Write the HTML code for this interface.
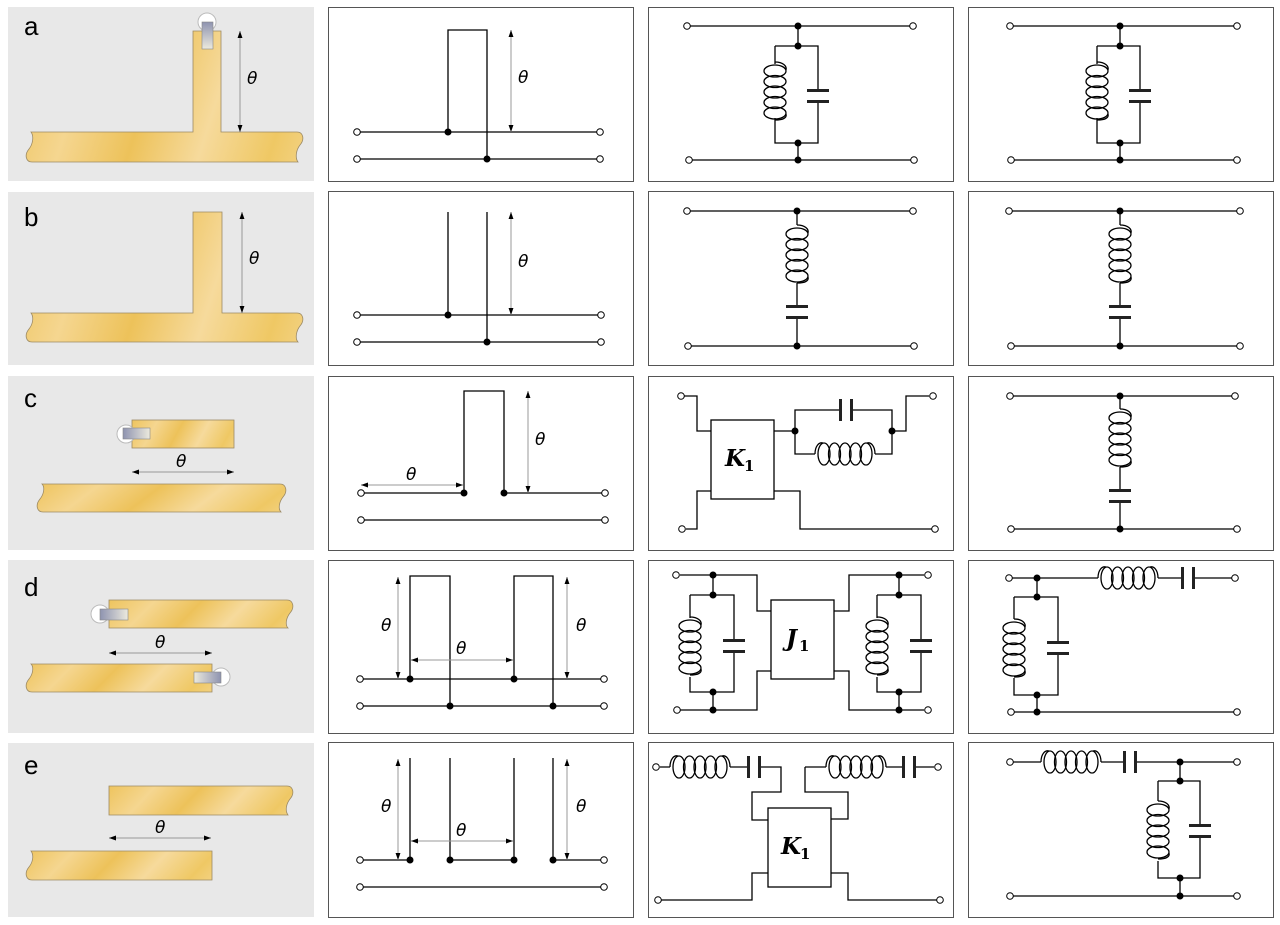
<!DOCTYPE html>
<html><head><meta charset="utf-8"><style>
html,body{margin:0;padding:0;background:#fff}
svg{display:block}
.w{fill:none;stroke:#000;stroke-width:1.3}
.a{fill:none;stroke:#999;stroke-width:1}
.box{fill:#fff;stroke:#555;stroke-width:1}
.g{fill:#e8e8e8}
.s{fill:url(#gold);stroke:#9c8a64;stroke-width:0.8}
.t{font-family:"DejaVu Sans","Liberation Sans",sans-serif;font-style:oblique;font-size:17px}
.l{font-family:"Liberation Sans",sans-serif;font-size:26px}
.k{font-family:"DejaVu Serif","Liberation Serif",serif;font-style:italic;font-weight:bold;font-size:23px}
.k2{font-family:"DejaVu Serif","Liberation Serif",serif;font-weight:bold;font-size:15px}
</style></head><body>
<svg width="1280" height="925" viewBox="0 0 1280 925" xmlns="http://www.w3.org/2000/svg">
<defs>
<linearGradient id="gold" x1="0" y1="0" x2="1" y2="0.15" spreadMethod="reflect">
<stop offset="0" stop-color="#eec45e"/><stop offset="0.25" stop-color="#f5d690"/>
<stop offset="0.5" stop-color="#edc25a"/><stop offset="0.75" stop-color="#f6da9c"/><stop offset="1" stop-color="#efc864"/></linearGradient>
<linearGradient id="conn" x1="0" y1="0" x2="0" y2="1"><stop offset="0" stop-color="#8e93b0"/><stop offset="1" stop-color="#eceade"/></linearGradient>
<linearGradient id="connh" x1="0" y1="0" x2="1" y2="0"><stop offset="0" stop-color="#8e93b0"/><stop offset="1" stop-color="#eceade"/></linearGradient>
<linearGradient id="connh2" x1="1" y1="0" x2="0" y2="0"><stop offset="0" stop-color="#8e93b0"/><stop offset="1" stop-color="#eceade"/></linearGradient>
<marker id="ah" viewBox="0 0 10 10" refX="10" refY="5" markerWidth="7" markerHeight="7" orient="auto-start-reverse" markerUnits="userSpaceOnUse"><path d="M0,1.5 L10,5 L0,8.5z" fill="#000"/></marker>
<g id="cv"><path class="w" d="M0,0 C8,0 12,4 11,8"/>
<ellipse class="w" cx="0" cy="9" rx="11" ry="6"/><ellipse class="w" cx="0" cy="19.5" rx="11" ry="6"/><ellipse class="w" cx="0" cy="30" rx="11" ry="6"/><ellipse class="w" cx="0" cy="40.5" rx="11" ry="6"/><ellipse class="w" cx="0" cy="51" rx="11" ry="6"/>
<path class="w" d="M11,52 C12,56 8,58 0,58"/></g>
<g id="ch"><path class="w" d="M0,0 C0,-8 4,-12 8,-11"/>
<ellipse class="w" cx="9" cy="0" rx="6" ry="11"/><ellipse class="w" cx="19.5" cy="0" rx="6" ry="11"/><ellipse class="w" cx="30" cy="0" rx="6" ry="11"/><ellipse class="w" cx="40.5" cy="0" rx="6" ry="11"/><ellipse class="w" cx="51" cy="0" rx="6" ry="11"/>
<path class="w" d="M52,-11 C56,-12 60,-8 60,0"/></g>
<g id="capv"><rect x="-11" y="-7" width="22" height="3" fill="#222"/><rect x="-11" y="4" width="22" height="3" fill="#222"/></g>
<g id="caph"><rect x="-7" y="-11" width="3" height="22" fill="#222"/><rect x="4" y="-11" width="3" height="22" fill="#222"/></g>
</defs>

<rect class="g" x="8" y="7" width="306" height="174"/>
<rect class="g" x="8" y="192" width="306" height="173"/>
<rect class="g" x="8" y="376" width="306" height="174"/>
<rect class="g" x="8" y="560" width="306" height="173"/>
<rect class="g" x="8" y="743" width="306" height="174"/>
<text class="l" x="24" y="35">a</text>
<text class="l" x="24" y="226">b</text>
<text class="l" x="24" y="407">c</text>
<text class="l" x="24" y="596">d</text>
<text class="l" x="24" y="774">e</text>

<path class="s" d="M33,132 H193 V31 H221 V132 H297 c6,0 8,7 3,13 c-4,5 -5,13 -2,17 H32 c-6,0 -8,-7 -3,-13 c4,-5 5,-13 2,-17z"/>
<circle cx="207" cy="22" r="9" fill="#fff" stroke="#bbb"/>
<rect x="202" y="22" width="11" height="27" fill="url(#conn)" stroke="#888" stroke-width="0.6"/>
<line class="a" x1="240" y1="31" x2="240" y2="132" marker-start="url(#ah)" marker-end="url(#ah)"/>
<text class="t" x="247" y="84">θ</text>
<path class="s" d="M33,313 H193 V212 H222 V313 H297 c6,0 8,7 3,13 c-4,5 -5,13 -2,16 H32 c-6,0 -8,-7 -3,-13 c4,-5 5,-12 2,-16z"/>
<line class="a" x1="242" y1="212" x2="242" y2="313" marker-start="url(#ah)" marker-end="url(#ah)"/>
<text class="t" x="249" y="264">θ</text>
<rect class="s" x="132" y="420" width="102" height="28"/>
<circle cx="126" cy="434" r="9" fill="#fff" stroke="#bbb"/>
<rect x="123" y="428" width="27" height="11" fill="url(#connh)" stroke="#888" stroke-width="0.6"/>
<path class="s" d="M44,484 H280 c6,0 8,7 3,13 c-4,5 -5,12 -2,15 H43 c-6,0 -8,-7 -3,-13 c4,-5 5,-12 2,-15z"/>
<line class="a" x1="132" y1="472" x2="234" y2="472" marker-start="url(#ah)" marker-end="url(#ah)"/>
<text class="t" x="176" y="467">θ</text>
<path class="s" d="M109,600 H287 c6,0 8,7 3,13 c-4,5 -5,12 -2,15 H109z"/>
<circle cx="100" cy="614" r="9" fill="#fff" stroke="#bbb"/>
<rect x="100" y="609" width="28" height="11" fill="url(#connh)" stroke="#888" stroke-width="0.6"/>
<path class="s" d="M33,664 H212 V692 H32 c-6,0 -8,-7 -3,-13 c4,-5 5,-12 2,-15z"/>
<circle cx="221" cy="677" r="9" fill="#fff" stroke="#bbb"/>
<rect x="194" y="672" width="27" height="11" fill="url(#connh2)" stroke="#888" stroke-width="0.6"/>
<line class="a" x1="109" y1="653" x2="212" y2="653" marker-start="url(#ah)" marker-end="url(#ah)"/>
<text class="t" x="155" y="648">θ</text>
<path class="s" d="M109,786 H287 c6,0 8,7 3,13 c-4,5 -5,12 -2,16 H109z"/>
<path class="s" d="M33,851 H212 V880 H32 c-6,0 -8,-7 -3,-13 c4,-5 5,-12 2,-16z"/>
<line class="a" x1="109" y1="838" x2="211" y2="838" marker-start="url(#ah)" marker-end="url(#ah)"/>
<text class="t" x="155" y="833">θ</text>

<g>
<rect class="box" x="328.5" y="7.5" width="305" height="174"/><rect class="box" x="648.5" y="7.5" width="305" height="174"/><rect class="box" x="968.5" y="7.5" width="305" height="174"/>
<rect class="box" x="328.5" y="191.5" width="305" height="174"/><rect class="box" x="648.5" y="191.5" width="305" height="174"/><rect class="box" x="968.5" y="191.5" width="305" height="174"/>
<rect class="box" x="328.5" y="376.5" width="305" height="174"/><rect class="box" x="648.5" y="376.5" width="305" height="174"/><rect class="box" x="968.5" y="376.5" width="305" height="174"/>
<rect class="box" x="328.5" y="560.5" width="305" height="173"/><rect class="box" x="648.5" y="560.5" width="305" height="173"/><rect class="box" x="968.5" y="560.5" width="305" height="173"/>
<rect class="box" x="328.5" y="742.5" width="305" height="175"/><rect class="box" x="648.5" y="742.5" width="305" height="175"/><rect class="box" x="968.5" y="742.5" width="305" height="175"/>
</g>

<path class="w" d="M360,132 H600 M360,159 H600 M448,132 V30 H487 V159"/>
<line class="a" x1="511" y1="30" x2="511" y2="132" marker-start="url(#ah)" marker-end="url(#ah)"/>
<text class="t" x="518" y="83">θ</text>
<path class="w" d="M360,315 H600 M360,342 H600 M448,212 V315 M487,212 V342"/>
<line class="a" x1="511" y1="212" x2="511" y2="315" marker-start="url(#ah)" marker-end="url(#ah)"/>
<text class="t" x="518" y="267">θ</text>
<path class="w" d="M361,493 H464 V391 H504 V493 H605 M361,520 H605"/>
<line class="a" x1="361" y1="485" x2="463" y2="485" marker-start="url(#ah)" marker-end="url(#ah)"/>
<text class="t" x="406" y="480">θ</text>
<line class="a" x1="528" y1="391" x2="528" y2="493" marker-start="url(#ah)" marker-end="url(#ah)"/>
<text class="t" x="535" y="445">θ</text>
<path class="w" d="M360,679 H604 M360,706 H604 M410,679 V576 H450 V706 M514,679 V576 H553 V706"/>
<line class="a" x1="398" y1="577" x2="398" y2="679" marker-start="url(#ah)" marker-end="url(#ah)"/>
<line class="a" x1="567" y1="577" x2="567" y2="679" marker-start="url(#ah)" marker-end="url(#ah)"/>
<line class="a" x1="411" y1="660" x2="513" y2="660" marker-start="url(#ah)" marker-end="url(#ah)"/>
<text class="t" x="381" y="631">θ</text><text class="t" x="576" y="631">θ</text><text class="t" x="456" y="654">θ</text>
<path class="w" d="M360,860 H410 M450,860 H514 M553,860 H604 M360,887 H604 M410,758 V860 M450,758 V860 M514,758 V860 M553,758 V860"/>
<line class="a" x1="398" y1="759" x2="398" y2="860" marker-start="url(#ah)" marker-end="url(#ah)"/>
<line class="a" x1="567" y1="759" x2="567" y2="860" marker-start="url(#ah)" marker-end="url(#ah)"/>
<line class="a" x1="411" y1="841" x2="513" y2="841" marker-start="url(#ah)" marker-end="url(#ah)"/>
<text class="t" x="381" y="812">θ</text><text class="t" x="576" y="812">θ</text><text class="t" x="456" y="836">θ</text>
<g fill="#000">
<circle cx="448" cy="132" r="3.5"/><circle cx="487" cy="159" r="3.5"/>
<circle cx="448" cy="315" r="3.5"/><circle cx="487" cy="342" r="3.5"/>
<circle cx="464" cy="493" r="3.5"/><circle cx="504" cy="493" r="3.5"/>
<circle cx="410" cy="679" r="3.5"/><circle cx="450" cy="706" r="3.5"/><circle cx="514" cy="679" r="3.5"/><circle cx="553" cy="706" r="3.5"/>
<circle cx="410" cy="860" r="3.5"/><circle cx="450" cy="860" r="3.5"/><circle cx="514" cy="860" r="3.5"/><circle cx="553" cy="860" r="3.5"/>
</g>

<path class="w" d="M687,26 H914 M689,160 H914 M798,26 V46 M798,143 V160 M775,46 H818 V90 M818,102 V143 H775 V118 M775,46 V64"/>
<use href="#cv" x="775" y="62"/><use href="#capv" x="818" y="96"/>
<path class="w" d="M687,211 H913 M688,346 H914 M797,211 V225 M797,283 V306 M797,318 V346"/>
<use href="#cv" x="797" y="225"/><use href="#capv" x="797" y="312"/>
<rect class="w" x="711" y="420" width="63" height="79"/>
<text class="k" x="725" y="466">K</text><text class="k2" x="744" y="471">1</text>
<path class="w" d="M684,396 H697 V431 H711 M686,529 H697 V491 H711 M774,431 H795 V410 H840 M852,410 H892 V431 M795,431 V454 H815 M875,454 H892 V431 H906 V396 H929 M774,491 H800 V529 H932"/>
<use href="#ch" x="815" y="454"/><use href="#caph" x="846" y="410"/>
<rect class="w" x="771" y="600" width="63" height="79"/>
<text class="k" x="786" y="646">J</text><text class="k2" x="799" y="651">1</text>
<path class="w" d="M680,575 H757 V611 H771 M680,710 H757 V671 H771 M713,575 V595 M713,692 V710 M690,595 H734 V640 M734,652 V692 H690 V677 M690,595 V618
M834,611 H849 V575 H924 M834,671 H849 V710 H924 M899,575 V595 M899,692 V710 M877,595 H921 V640 M921,652 V692 H877 V677 M877,595 V618"/>
<use href="#cv" x="690" y="617"/><use href="#capv" x="734" y="646"/>
<use href="#cv" x="877" y="617"/><use href="#capv" x="921" y="646"/>
<rect class="w" x="768" y="808" width="63" height="79"/>
<text class="k" x="781" y="854">K</text><text class="k2" x="800" y="859">1</text>
<path class="w" d="M660,767 H670 M730,767 H748 M760,767 H781 V792 H752 V820 H768 M805,767 V792 H848 V819 H831 M805,767 H826 M886,767 H903 M915,767 H934 M661,900 H752 V873 H768 M831,873 H848 V900 H937"/>
<use href="#ch" x="670" y="767"/><use href="#caph" x="754" y="767"/>
<use href="#ch" x="826" y="767"/><use href="#caph" x="909" y="767"/>
<g fill="#000">
<circle cx="798" cy="26" r="3.5"/><circle cx="798" cy="46" r="3.5"/><circle cx="798" cy="143" r="3.5"/><circle cx="798" cy="160" r="3.5"/>
<circle cx="797" cy="211" r="3.5"/><circle cx="797" cy="346" r="3.5"/>
<circle cx="795" cy="431" r="3.5"/><circle cx="892" cy="431" r="3.5"/>
<circle cx="713" cy="575" r="3.5"/><circle cx="713" cy="595" r="3.5"/><circle cx="713" cy="692" r="3.5"/><circle cx="713" cy="710" r="3.5"/>
<circle cx="899" cy="575" r="3.5"/><circle cx="899" cy="595" r="3.5"/><circle cx="899" cy="692" r="3.5"/><circle cx="899" cy="710" r="3.5"/>
</g>

<path class="w" d="M1011,26 H1237 M1011,160 H1237 M1120,26 V46 M1120,143 V160 M1097,46 H1140 V90 M1140,102 V143 H1097 V118 M1097,46 V64"/>
<use href="#cv" x="1097" y="62"/><use href="#capv" x="1140" y="96"/>
<path class="w" d="M1010,211 H1237 M1011,346 H1237 M1120,211 V225 M1120,283 V306 M1120,318 V346"/>
<use href="#cv" x="1120" y="225"/><use href="#capv" x="1120" y="312"/>
<path class="w" d="M1010,396 H1235 M1011,529 H1237 M1120,396 V409 M1120,467 V490 M1120,502 V529"/>
<use href="#cv" x="1120" y="409"/><use href="#capv" x="1120" y="496"/>
<path class="w" d="M1012,578 H1098 M1158,578 H1182 M1194,578 H1232 M1012,712 H1237 M1037,578 V597 M1037,695 V712 M1014,597 H1058 V642 M1058,654 V695 H1014 V678 M1014,597 V619"/>
<use href="#ch" x="1098" y="578"/><use href="#caph" x="1188" y="578"/>
<use href="#cv" x="1014" y="619"/><use href="#capv" x="1058" y="648"/>
<path class="w" d="M1013,762 H1041 M1101,762 H1124 M1136,762 H1234 M1013,896 H1234 M1180,762 V781 M1180,878 V896 M1158,781 H1200 V825 M1200,837 V878 H1158 V861 M1158,781 V801"/>
<use href="#ch" x="1041" y="762"/><use href="#caph" x="1130" y="762"/>
<use href="#cv" x="1158" y="801"/><use href="#capv" x="1200" y="831"/>
<g fill="#000">
<circle cx="1120" cy="26" r="3.5"/><circle cx="1120" cy="46" r="3.5"/><circle cx="1120" cy="143" r="3.5"/><circle cx="1120" cy="160" r="3.5"/>
<circle cx="1120" cy="211" r="3.5"/><circle cx="1120" cy="346" r="3.5"/>
<circle cx="1120" cy="396" r="3.5"/><circle cx="1120" cy="529" r="3.5"/>
<circle cx="1037" cy="578" r="3.5"/><circle cx="1037" cy="597" r="3.5"/><circle cx="1037" cy="695" r="3.5"/><circle cx="1037" cy="712" r="3.5"/>
<circle cx="1180" cy="762" r="3.5"/><circle cx="1180" cy="781" r="3.5"/><circle cx="1180" cy="878" r="3.5"/><circle cx="1180" cy="896" r="3.5"/>
</g>

<g fill="#fff" stroke="#000" stroke-width="1">
<circle cx="357" cy="132" r="3.3"/><circle cx="600" cy="132" r="3.3"/><circle cx="357" cy="159" r="3.3"/><circle cx="600" cy="159" r="3.3"/>
<circle cx="357" cy="315" r="3.3"/><circle cx="601" cy="315" r="3.3"/><circle cx="357" cy="342" r="3.3"/><circle cx="601" cy="342" r="3.3"/>
<circle cx="361" cy="493" r="3.3"/><circle cx="605" cy="493" r="3.3"/><circle cx="361" cy="520" r="3.3"/><circle cx="605" cy="520" r="3.3"/>
<circle cx="360" cy="679" r="3.3"/><circle cx="604" cy="679" r="3.3"/><circle cx="360" cy="706" r="3.3"/><circle cx="604" cy="706" r="3.3"/>
<circle cx="360" cy="860" r="3.3"/><circle cx="604" cy="860" r="3.3"/><circle cx="360" cy="887" r="3.3"/><circle cx="604" cy="887" r="3.3"/>
<circle cx="687" cy="26" r="3.3"/><circle cx="913" cy="26" r="3.3"/><circle cx="689" cy="160" r="3.3"/><circle cx="914" cy="160" r="3.3"/>
<circle cx="687" cy="211" r="3.3"/><circle cx="913" cy="211" r="3.3"/><circle cx="688" cy="346" r="3.3"/><circle cx="914" cy="346" r="3.3"/>
<circle cx="681" cy="396" r="3.3"/><circle cx="933" cy="396" r="3.3"/><circle cx="682" cy="529" r="3.3"/><circle cx="935" cy="529" r="3.3"/>
<circle cx="676" cy="575" r="3.3"/><circle cx="928" cy="575" r="3.3"/><circle cx="677" cy="710" r="3.3"/><circle cx="928" cy="710" r="3.3"/>
<circle cx="656" cy="767" r="3.3"/><circle cx="938" cy="767" r="3.3"/><circle cx="658" cy="900" r="3.3"/><circle cx="940" cy="900" r="3.3"/>
<circle cx="1010" cy="26" r="3.3"/><circle cx="1237" cy="26" r="3.3"/><circle cx="1011" cy="160" r="3.3"/><circle cx="1237" cy="160" r="3.3"/>
<circle cx="1009" cy="211" r="3.3"/><circle cx="1240" cy="211" r="3.3"/><circle cx="1011" cy="346" r="3.3"/><circle cx="1240" cy="346" r="3.3"/>
<circle cx="1010" cy="396" r="3.3"/><circle cx="1235" cy="396" r="3.3"/><circle cx="1011" cy="529" r="3.3"/><circle cx="1237" cy="529" r="3.3"/>
<circle cx="1009" cy="578" r="3.3"/><circle cx="1235" cy="578" r="3.3"/><circle cx="1011" cy="712" r="3.3"/><circle cx="1237" cy="712" r="3.3"/>
<circle cx="1010" cy="762" r="3.3"/><circle cx="1237" cy="762" r="3.3"/><circle cx="1010" cy="896" r="3.3"/><circle cx="1237" cy="896" r="3.3"/>
</g>
</svg>
</body></html>
